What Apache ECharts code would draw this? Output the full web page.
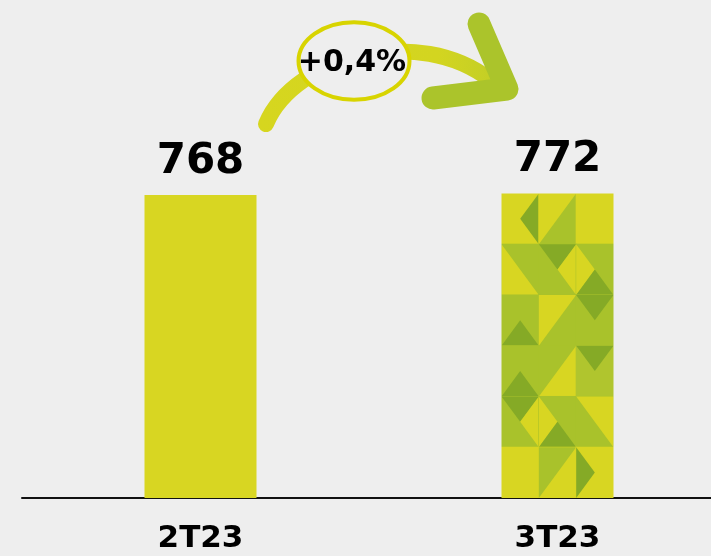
<!DOCTYPE html>
<html>
<head>
<meta charset="utf-8">
<style>
  html, body { margin: 0; padding: 0; background: #eeeeee; }
  #main { width: 711px; height: 556px; }
</style>
<script src="https://cdn.jsdelivr.net/npm/echarts@6/dist/echarts.min.js"></script>
</head>
<body>
<div id="main"></div>
<script>
// data
const categories = ['2T23', '3T23'];
const values = [768, 772];
const changeLabel = '+0,4%';

const LIGHT = '#d8d622';
const MID = '#a9c22b';
const DARK = '#85aa26';

// mosaic tiles for the 3T23 bar: 3 columns x 6 rows, each tile = base colour + triangles (unit coords)
const tiles = [
  [[LIGHT, [DARK, [[1,0],[0.5,0.5],[1,1]]]], [LIGHT, [MID, [[0,1],[1,0],[1,1]]]], [LIGHT]],
  [[MID, [LIGHT, [[0,0],[1,1],[0,1]]]], [MID, [DARK, [[0,0],[1,0],[0.5,0.5]]], [LIGHT, [[1,0],[1,1],[0.5,0.5]]]], [MID, [LIGHT, [[0,0],[0.5,0.5],[0,1]]], [DARK, [[0,1],[0.5,0.5],[1,1]]]]],
  [[MID, [DARK, [[0,1],[0.5,0.5],[1,1]]]], [MID, [LIGHT, [[0,0],[1,0],[0,1]]]], [MID, [DARK, [[0,0],[1,0],[0.5,0.5]]]]],
  [[MID, [DARK, [[0,1],[0.5,0.5],[1,1]]]], [MID, [LIGHT, [[1,0],[1,1],[0,1]]]], ['#b0c52e', [DARK, [[0,0],[1,0],[0.5,0.5]]]]],
  [[MID, [DARK, [[0,0],[1,0],[0.5,0.5]]], [LIGHT, [[1,0],[0.5,0.5],[1,1]]]], [MID, [LIGHT, [[0,0],[0.5,0.5],[0,1]]], [DARK, [[0,1],[0.5,0.5],[1,1]]]], [MID, [LIGHT, [[0,0],[1,0],[1,1]]]]],
  [[LIGHT], [LIGHT, [MID, [[0,0],[1,0],[0,1]]]], [LIGHT, [DARK, [[0,0],[0.5,0.5],[0,1]]]]]
];

const chartDom = document.getElementById('main');
const myChart = echarts.init(chartDom, null, { renderer: 'canvas' });
const BAR_W = 112;

const option = {
  backgroundColor: '#eeeeee',
  animation: false,
  grid: { left: 22, width: 714, top: 103.5, bottom: 58, outerBoundsMode: 'none', containLabel: false },
  xAxis: {
    type: 'category',
    data: categories,
    axisLine: { lineStyle: { color: '#111111', width: 2 } },
    axisTick: { show: false },
    axisLabel: {
      margin: 25,
      color: '#000',
      fontFamily: 'DejaVu Sans',
      fontWeight: 'bold',
      fontSize: 31
    }
  },
  yAxis: {
    type: 'value',
    min: 0,
    max: 1000,
    show: false,
    splitLine: { show: false }
  },
  series: [{
    type: 'bar',
    barWidth: BAR_W,
    data: values.map(function (v) {
      return { value: v, itemStyle: { color: LIGHT } };
    }),
    label: {
      show: true,
      position: 'top',
      distance: 12,
      color: '#000',
      fontFamily: 'DejaVu Sans',
      fontWeight: 'bold',
      fontSize: 42
    }
  }],
  graphic: [
    {
      type: 'bezierCurve',
      shape: { x1: 266, y1: 124, cpx1: 295, cpy1: 55, cpx2: 420, cpy2: 25, x2: 490, y2: 80 },
      style: {
        fill: null,
        lineWidth: 16,
        lineCap: 'round',
        stroke: new echarts.graphic.LinearGradient(0, 0, 1, 0, [
          { offset: 0, color: '#d6d61f' },
          { offset: 0.75, color: '#d3d520' },
          { offset: 1, color: '#c2ce26' }
        ], false)
      }
    },
    {
      type: 'polyline',
      shape: { points: [[479, 24], [507, 89], [433, 98]] },
      style: { fill: null, stroke: '#abc42b', lineWidth: 23, lineCap: 'round', lineJoin: 'round' }
    },
    {
      type: 'ellipse',
      shape: { cx: 354, cy: 61, rx: 55.5, ry: 38.8 },
      style: { fill: '#eeeeee', stroke: '#d8d400', lineWidth: 4 }
    },
    {
      type: 'text',
      x: 352,
      y: 63,
      style: {
        text: changeLabel,
        fill: '#000',
        font: 'bold 30px "DejaVu Sans"',
        align: 'center',
        verticalAlign: 'middle'
      }
    }
  ]
};

myChart.setOption(option);

// build the mosaic pattern at the position of the second bar
const cx = myChart.convertToPixel({ xAxisIndex: 0 }, categories[1]);
const yTop = myChart.convertToPixel({ yAxisIndex: 0 }, values[1]);
const yBot = myChart.convertToPixel({ yAxisIndex: 0 }, 0);
const x0 = cx - BAR_W / 2;
const tw = BAR_W / 3;
const th = (yBot - yTop) / 6;

const cvs = document.createElement('canvas');
cvs.width = 711;
cvs.height = 556;
const ctx = cvs.getContext('2d');
tiles.forEach(function (row, r) {
  row.forEach(function (tile, c) {
    const tx = x0 + c * tw;
    const ty = yTop + r * th;
    ctx.fillStyle = tile[0];
    ctx.fillRect(tx - 0.5, ty - 0.5, tw + 1, th + 1);
    for (let k = 1; k < tile.length; k++) {
      const tri = tile[k];
      ctx.fillStyle = tri[0];
      ctx.beginPath();
      tri[1].forEach(function (p, j) {
        const px = tx + p[0] * tw;
        const py = ty + p[1] * th;
        if (j === 0) ctx.moveTo(px, py); else ctx.lineTo(px, py);
      });
      ctx.closePath();
      ctx.fill();
    }
  });
});

myChart.setOption({
  series: [{
    data: values.map(function (v, i) {
      return {
        value: v,
        itemStyle: { color: i === 0 ? LIGHT : { image: cvs, repeat: 'no-repeat' } }
      };
    })
  }]
});
</script>
</body>
</html>
